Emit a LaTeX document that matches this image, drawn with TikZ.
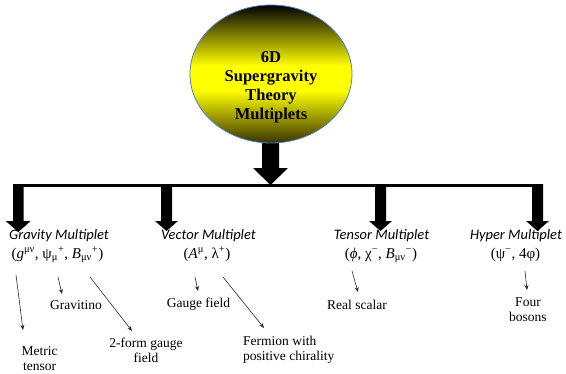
\documentclass[tikz,border=0pt]{standalone}
\usepackage{fontspec}
\setmainfont{Liberation Serif}
\newfontfamily\carl{Carlito}
\usetikzlibrary{shapes.geometric,arrows.meta}
\definecolor{ebot}{rgb}{0.22,0.2,0}
\definecolor{eyel}{rgb}{1,1,0}
\definecolor{eborder}{RGB}{79,129,189}
\pgfdeclareverticalshading{ellshade}{100bp}{color(0bp)=(ebot); color(25bp)=(ebot); color(44bp)=(eyel); color(53bp)=(eyel); color(75bp)=(black); color(100bp)=(black)}
% x center, y top, y head base, y tip, shaft half width, head half width
\newcommand\fatarrow[6]{\fill (#1-#5,#2) -- (#1+#5,#2) -- (#1+#5,#3) -- (#1+#6,#3) -- (#1,#4) -- (#1-#6,#3) -- (#1-#5,#3) -- cycle;}
\begin{document}
\begin{tikzpicture}[x=1pt,y=-1pt,
  mtitle/.style={font=\carl\itshape\fontsize{14.5}{16}\selectfont, inner sep=0pt, anchor=base},
  mfield/.style={font=\fontsize{15}{17}\selectfont, inner sep=0pt, anchor=base},
  lab/.style={font=\fontsize{13.5}{15}\selectfont, inner sep=0pt, align=center},
  thinarrow/.style={draw=black!85, line width=0.6pt, -{Stealth[length=5pt,width=4pt]}},
]
\useasboundingbox (0,0) rectangle (566,373);

% thick arrows and bar
\fatarrow{270.5}{135}{168}{185}{8.5}{17.5}
\coordinate (barL) at (13,185.5);
\coordinate (barR) at (543,185.5);
\draw[line width=3pt] (barL) -- (barR);
\fatarrow{18.25}{184}{221}{232}{5.25}{12.5}
\fatarrow{166.5}{184}{221}{231}{5.5}{11.5}
\fatarrow{380.5}{184}{221}{231}{5.5}{11.5}
\fatarrow{537.5}{184}{221}{231}{5.5}{11.5}

% top ellipse
\node[ellipse, minimum width=162pt, minimum height=138pt, inner sep=0pt,
      draw=eborder, line width=0.8pt, shading=ellshade] (top) at (271,74) {};
\node[font=\bfseries\fontsize{16.5}{19}\selectfont, align=center, inner sep=0pt, anchor=north]
  (title) at (271,51) {6D\\Supergravity\\Theory\\Multiplets};

% multiplet titles
\node[mtitle] (gt) at (59,239) {Gravity Multiplet};
\node[mtitle] (vt) at (208.5,239) {Vector Multiplet};
\node[mtitle] (tt) at (381.5,239) {Tensor Multiplet};
\node[mtitle] (ht) at (516,239) {Hyper Multiplet};

% field contents
\node[mfield] (gm) at (57.5,258) {(\textit{g}\textsuperscript{μν}, ψ\textsubscript{μ}\textsuperscript{+}, \textit{B}\textsubscript{μν}\textsuperscript{+})};
\node[mfield] (vm) at (207,258) {(\textit{A}\textsuperscript{μ}, λ\textsuperscript{+})};
\node[mfield] (tm) at (381,258) {(\textit{ϕ}, χ\textsuperscript{−}, \textit{B}\textsubscript{μν}\textsuperscript{−})};
\node[mfield] (hm) at (515.5,258) {(ψ\textsuperscript{−}, 4φ)};

% explanation labels
\node[lab, anchor=north] (metric) at (39.5,346) {Metric\\tensor};
\node[lab, anchor=base] (gravitino) at (76,309) {Gravitino};
\node[lab, anchor=north] (twoform) at (146,338) {2-form gauge\\field};
\node[lab, anchor=base] (gauge) at (198.5,307) {Gauge field};
\node[lab, anchor=north west, align=left] (fermion) at (243,336) {Fermion with\\positive chirality};
\node[lab, anchor=base] (scalar) at (357,309) {Real scalar};
\node[lab, anchor=north] (bosons) at (528,297) {Four\\bosons};

% connector end points
\coordinate (gS) at (16,275);   \coordinate (gE) at (23,330);
\coordinate (psS) at (58,277);  \coordinate (psE) at (62,294);
\coordinate (bS) at (90,277);   \coordinate (bE) at (132,331);
\coordinate (aS) at (195,277);  \coordinate (aE) at (198,291);
\coordinate (lS) at (223,277);  \coordinate (lE) at (264,328);
\coordinate (phS) at (352,271); \coordinate (phE) at (358,292);
\coordinate (hS) at (525,271);  \coordinate (hE) at (527,290);

\draw[thinarrow] (gS) -- (gE);
\draw[thinarrow] (psS) -- (psE);
\draw[thinarrow] (bS) -- (bE);
\draw[thinarrow] (aS) -- (aE);
\draw[thinarrow] (lS) -- (lE);
\draw[thinarrow] (phS) -- (phE);
\draw[thinarrow] (hS) -- (hE);
\end{tikzpicture}
\end{document}
